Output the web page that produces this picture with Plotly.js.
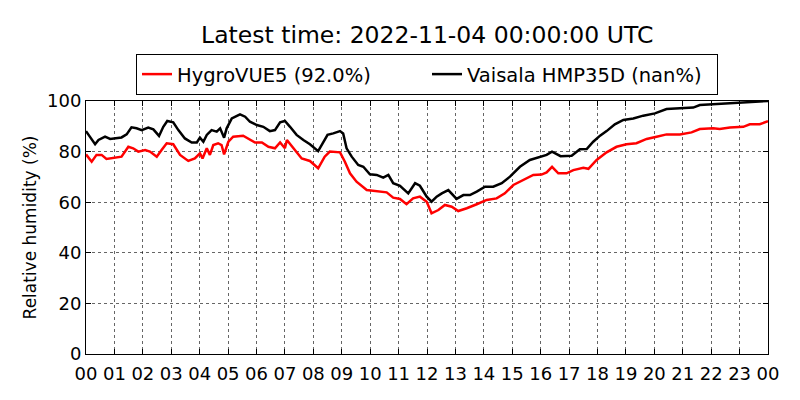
<!DOCTYPE html>
<html>
<head>
<meta charset="utf-8">
<script src="https://cdn.plot.ly/plotly-3.0.1.min.js"></script>
<style>
  body { margin: 0; background: #fff; }
  #chart { width: 800px; height: 400px; }
</style>
</head>
<body>
<div id="chart"></div>
<script>
// hours since 2022-11-03 00:00 UTC
var hmpHours = [0, 0.32, 0.44, 0.67, 0.85, 0.96, 1.25, 1.43, 1.6, 1.78, 1.96, 2.19, 2.37, 2.57, 2.72, 2.86, 3.07, 3.25, 3.48, 3.72,
  3.9, 4.01, 4.13, 4.25, 4.42, 4.6, 4.72, 4.86, 4.95, 5.13, 5.42, 5.6, 5.77, 6.01, 6.24, 6.47, 6.65, 6.83, 7.0, 7.18,
  7.41, 7.65, 7.88, 8.17, 8.35, 8.5, 8.7, 8.94, 9.05, 9.17, 9.35, 9.58, 9.76, 9.99, 10.23, 10.46, 10.64, 10.81, 11.05, 11.34,
  11.58, 11.75, 11.99, 12.16, 12.34, 12.52, 12.75, 13.04, 13.28, 13.51, 13.75, 14.04, 14.33, 14.63, 14.92, 15.27, 15.62, 15.97, 16.21, 16.4,
  16.7, 17.09, 17.38, 17.62, 17.85, 18.09, 18.32, 18.61, 18.91, 19.26, 19.61, 20.02, 20.43, 20.9, 21.37, 21.6, 22.07, 22.54, 23.01, 23.5, 24];
var hmpRH = [88.1, 82.9, 84.6, 85.9, 85.0, 85.2, 85.6, 86.8, 89.6, 89.2, 88.5, 89.5, 88.8, 86.2, 89.8, 92.1, 91.6, 88.5, 85.2, 83.6,
  83.6, 85.5, 83.9, 86.6, 88.5, 87.9, 89.2, 85.5, 89.2, 93.1, 94.7, 93.8, 91.8, 90.5, 89.8, 88.1, 88.5, 91.6, 92.1, 89.8,
  86.6, 84.6, 82.9, 80.2, 83.9, 86.6, 87.2, 88.1, 87.2, 81.3, 78.0, 74.7, 74.0, 71.0, 70.8, 69.7, 70.8, 67.5, 66.5, 63.5,
  67.5, 66.5, 62.2, 60.2, 62.2, 63.5, 64.8, 61.3, 62.8, 62.8, 64.2, 66.1, 66.1, 67.5, 70.1, 74.0, 76.7, 77.8, 78.7, 80.0,
  78.2, 78.4, 80.9, 81.0, 83.9, 86.3, 88.1, 90.8, 92.5, 93.1, 94.2, 95.1, 96.8, 97.1, 97.4, 98.4, 98.7, 99.2, 99.5, 99.9, 100];

var hygroHours = [0, 0.2, 0.37, 0.55, 0.72, 0.96, 1.25, 1.49, 1.66, 1.84, 2.08, 2.25, 2.49, 2.66, 2.84, 3.07, 3.31, 3.6, 3.83, 4.01,
  4.1, 4.25, 4.36, 4.48, 4.65, 4.77, 4.86, 5.01, 5.18, 5.53, 5.71, 5.95, 6.19, 6.42, 6.65, 6.83, 7.0, 7.07, 7.21, 7.41,
  7.59, 7.88, 8.17, 8.4, 8.58, 8.94, 9.11, 9.29, 9.52, 9.88, 10.23, 10.58, 10.81, 11.05, 11.28, 11.51, 11.75, 11.99, 12.16, 12.4,
  12.63, 12.87, 13.1, 13.4, 13.75, 14.1, 14.45, 14.74, 15.04, 15.39, 15.74, 16.03, 16.21, 16.4, 16.62, 16.91, 17.15, 17.5, 17.68, 17.97,
  18.32, 18.67, 19.02, 19.37, 19.73, 20.08, 20.43, 20.9, 21.31, 21.6, 22.07, 22.3, 22.66, 23.13, 23.36, 23.71, 24];
var hygroRH = [78.9, 76.0, 78.7, 78.7, 77.1, 77.6, 78.0, 81.9, 81.3, 80.0, 80.6, 80.0, 78.0, 80.6, 83.3, 82.9, 78.7, 76.3, 77.3, 79.3,
  77.3, 81.3, 78.7, 82.6, 83.3, 82.6, 78.9, 83.9, 85.9, 86.3, 85.2, 83.6, 83.6, 81.9, 81.3, 83.6, 81.3, 84.6, 82.6, 80.0,
  77.3, 76.3, 73.4, 78.0, 80.0, 79.7, 76.0, 71.4, 68.1, 64.8, 64.4, 63.9, 61.8, 61.3, 59.2, 61.5, 62.2, 60.2, 55.6, 56.9,
  58.9, 58.2, 56.5, 57.6, 59.2, 60.9, 61.5, 63.5, 66.8, 68.8, 70.8, 70.9, 71.8, 74.0, 71.4, 71.4, 72.7, 73.6, 73.2, 76.7,
  79.7, 81.9, 82.9, 83.3, 85.0, 85.9, 86.8, 86.8, 87.6, 88.9, 89.2, 88.9, 89.5, 89.8, 90.8, 90.8, 92.0];

var tickHours = [];
var tickLabels = [];
for (var h = 0; h <= 24; h++) {
  tickHours.push(h);
  tickLabels.push(('0' + (h % 24)).slice(-2));
}

var font = 'DejaVu Sans, sans-serif';

var hygro = {
  x: hygroHours, y: hygroRH, mode: 'lines', name: 'HygroVUE5 (92.0%)',
  line: { color: '#ff0000', width: 2.5 }
};
var hmp = {
  x: hmpHours, y: hmpRH, mode: 'lines', name: 'Vaisala HMP35D (nan%)',
  line: { color: '#000000', width: 2.5 }
};

var axisStyle = {
  showline: true, linecolor: '#000', linewidth: 1, mirror: 'ticks',
  ticks: 'inside', ticklen: 5, tickcolor: '#000',
  showgrid: true, gridcolor: '#000', gridwidth: 0.6, griddash: 'dot',
  zeroline: false, tickfont: { family: font, size: 18, color: '#000' }
};

var layout = {
  width: 800, height: 400,
  margin: { l: 86, r: 32, t: 101, b: 46 },
  paper_bgcolor: '#fff', plot_bgcolor: '#fff',
  font: { family: font, color: '#000' },
  title: { text: 'Latest time: 2022-11-04 00:00:00 UTC', font: { family: font, size: 23.5, color: '#000' },
           x: 0.534, xanchor: 'center', y: 0.912, yanchor: 'middle' },
  showlegend: true,
  legend: {
    orientation: 'h', x: 0.5, xanchor: 'center', y: 1.105, yanchor: 'middle',
    bordercolor: '#000', borderwidth: 1, bgcolor: '#fff',
    font: { family: font, size: 19.5, color: '#000' },
    itemwidth: 30, entrywidth: 245, entrywidthmode: 'pixels'
  },
  xaxis: Object.assign({}, axisStyle, {
    range: [0, 24], tickvals: tickHours, ticktext: tickLabels, ticklabelstandoff: 3
  }),
  yaxis: Object.assign({}, axisStyle, {
    range: [0, 100], dtick: 20,
    title: { text: 'Relative humidity (%)', font: { family: font, size: 17, color: '#000' }, standoff: 6 }
  })
};

Plotly.newPlot('chart', [hygro, hmp], layout, { displayModeBar: false, staticPlot: true });
</script>
</body>
</html>
